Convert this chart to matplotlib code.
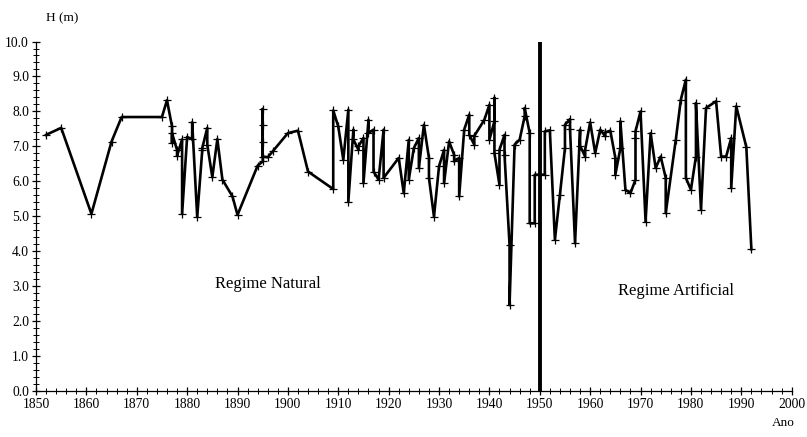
import matplotlib.pyplot as plt
from matplotlib.ticker import MultipleLocator

plt.rcParams['font.family'] = ['Liberation Serif', 'DejaVu Serif']

anos = [1852, 1855, 1861, 1865, 1867, 1875, 1876, 1877, 1877, 1877, 1878, 1878,
        1879, 1879, 1880, 1881, 1881, 1882, 1883, 1883, 1884, 1884, 1885, 1886,
        1887, 1889, 1890, 1894, 1895, 1895, 1895, 1895, 1895, 1896, 1897, 1900,
        1902, 1904, 1909, 1909, 1910, 1911, 1912, 1912, 1913, 1913, 1914, 1914,
        1915, 1915, 1916, 1916, 1917, 1917, 1918, 1919, 1919, 1922, 1923, 1924,
        1924, 1925, 1926, 1926, 1927, 1928, 1928, 1929, 1930, 1931, 1931, 1932,
        1933, 1933, 1934, 1934, 1935, 1936, 1936, 1937, 1937, 1939, 1940, 1940,
        1941, 1941, 1941, 1942, 1942, 1943, 1943, 1944, 1944, 1945, 1946, 1947,
        1947, 1948, 1948, 1949, 1949, 1951, 1951, 1952, 1953, 1954, 1955, 1955,
        1956, 1956, 1957, 1958, 1958, 1959, 1959, 1960, 1961, 1962, 1963, 1963,
        1964, 1965, 1965, 1966, 1966, 1967, 1968, 1969, 1969, 1969, 1970, 1971,
        1972, 1973, 1974, 1975, 1975, 1977, 1978, 1979, 1979, 1980, 1981, 1981,
        1982, 1983, 1985, 1986, 1987, 1988, 1988, 1989, 1991, 1992]
H = [7.33, 7.53, 5.07, 7.14, 7.84, 7.84, 8.32, 7.57, 7.10, 7.38, 6.90, 6.73,
     7.20, 5.07, 7.27, 7.20, 7.69, 4.98, 6.89, 6.95, 7.53, 7.05, 6.12, 7.21,
     6.05, 5.57, 5.04, 6.45, 6.57, 7.14, 7.62, 8.07, 6.71, 6.69, 6.86, 7.38,
     7.45, 6.28, 5.78, 8.03, 7.57, 6.62, 8.05, 5.42, 7.48, 7.20, 6.90, 7.00,
     7.24, 5.95, 7.76, 7.38, 7.48, 6.28, 6.05, 7.48, 6.10, 6.67, 5.66, 7.19,
     6.05, 6.95, 7.24, 6.38, 7.62, 6.67, 6.10, 4.99, 6.43, 6.90, 5.95, 7.14,
     6.76, 6.57, 6.67, 5.57, 7.48, 7.91, 7.33, 7.05, 7.30, 7.76, 8.19, 7.19,
     7.72, 8.39, 6.81, 5.90, 6.90, 7.33, 6.76, 4.18, 2.46, 7.05, 7.19, 7.86,
     8.10, 7.38, 4.80, 4.80, 6.19, 6.19, 7.43, 7.46, 4.33, 5.62, 6.95, 7.62,
     7.78, 7.50, 4.23, 7.48, 7.02, 6.71, 6.90, 7.69, 6.81, 7.48, 7.29, 7.40,
     7.45, 6.67, 6.19, 6.95, 7.72, 5.76, 5.66, 6.05, 7.24, 7.43, 8.00, 4.85,
     7.38, 6.38, 6.71, 6.10, 5.09, 7.19, 8.34, 8.91, 6.10, 5.76, 6.71, 8.24,
     5.19, 8.10, 8.29, 6.71, 6.71, 7.24, 5.81, 8.15, 6.98, 4.06]

fig = plt.figure(figsize=(8.07, 4.37), dpi=100)
ax = fig.add_axes([0.0446, 0.105, 0.9364, 0.80])

ax.plot(anos, H, color='black', lw=1.9, marker='+', ms=6, mew=0.9)
ax.plot([1950, 1950], [0, 10], color='black', lw=2.8)

ax.set_xlim(1850, 2000)
ax.set_ylim(0, 10)
ax.xaxis.set_major_locator(MultipleLocator(10))
ax.xaxis.set_minor_locator(MultipleLocator(2))
ax.yaxis.set_major_locator(MultipleLocator(1))
ax.yaxis.set_minor_locator(MultipleLocator(0.2))
ax.yaxis.set_major_formatter(plt.FormatStrFormatter('%.1f'))
ax.tick_params(which='major', direction='inout', length=6, width=0.9, labelsize=9.8, pad=2)
ax.tick_params(which='minor', direction='inout', length=4, width=0.7)
for s in ['top', 'right']:
    ax.spines[s].set_visible(False)
for s in ['left', 'bottom']:
    ax.spines[s].set_linewidth(0.9)

ax.text(1896, 3.05, 'Regime Natural', fontsize=12, ha='center', va='center')
ax.text(1977, 2.85, 'Regime Artificial', fontsize=12, ha='center', va='center')
fig.text(0.077, 0.958, 'H (m)', fontsize=9.5, ha='center', va='center')
fig.text(0.971, 0.032, 'Ano', fontsize=9.5, ha='center', va='center')

fig.savefig('out.png', dpi=100)
